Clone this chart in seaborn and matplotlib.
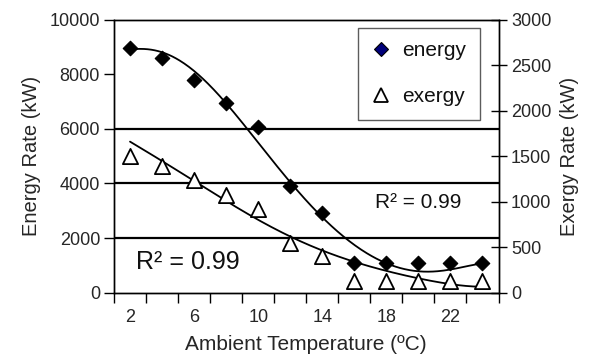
import numpy as np
import pandas as pd
import matplotlib
matplotlib.use("Agg")
import matplotlib.pyplot as plt
import seaborn as sns
from matplotlib.lines import Line2D

# ---- data ----
temps = [2, 4, 6, 8, 10, 12, 14, 16, 18, 20, 22, 24]
energy = [8950, 8600, 7800, 6950, 6050, 3900, 2900, 1075, 1075, 1075, 1075, 1075]
exergy = [1500, 1390, 1240, 1075, 915, 550, 400, 130, 130, 130, 130, 130]
energy_trend = [8900, 8830, 8030, 7050, 5450, 3950, 2900, 1700, 1040, 830, 830, 1075]
exergy_trend = [1660, 1440, 1237, 1000, 800, 615, 470, 340, 231, 165, 92, 66]
x_labels = [2, 6, 10, 14, 18, 22]
left_ticks = [0, 2000, 4000, 6000, 8000, 10000]
right_ticks = [0, 500, 1000, 1500, 2000, 2500, 3000]
grid_levels = [2000, 4000, 6000]
r2_energy = "R\u00b2 = 0.99"
r2_exergy = "R\u00b2 = 0.99"

sns.set_theme(style="white")
plt.rcParams['font.family'] = ['Liberation Sans', 'DejaVu Sans']
plt.rcParams['text.color'] = '#111111'

fig = plt.figure(figsize=(6, 3.54), dpi=100)
ax = fig.add_axes([114 / 600, 1 - 292.7 / 354, (498.5 - 114) / 600, (292.7 - 19.5) / 354])
ax2 = ax.twinx()

# smooth trend curves (rendering of the read trend values)
xs = np.linspace(temps[0], temps[-1], 300)
def smooth(vals, deg):
    t = np.asarray(temps, float)
    c = np.polyfit((t - 13) / 11, np.asarray(vals, float), deg)
    return np.polyval(c, (xs - 13) / 11)

df_e = pd.DataFrame({"t": temps, "v": energy})
df_x = pd.DataFrame({"t": temps, "v": exergy})
df_et = pd.DataFrame({"t": xs, "v": smooth(energy_trend, 7)})
df_xt = pd.DataFrame({"t": xs, "v": smooth(exergy_trend, 6)})

for g in grid_levels:
    ax.axhline(g, color='black', lw=1.6, zorder=1)

sns.lineplot(data=df_et, x="t", y="v", ax=ax, color='black', lw=1.3, estimator=None, zorder=3)
sns.scatterplot(data=df_e, x="t", y="v", ax=ax, marker='D', s=55, color='black',
                edgecolor='black', linewidth=0.8, zorder=4)
sns.lineplot(data=df_xt, x="t", y="v", ax=ax2, color='black', lw=1.3, estimator=None, zorder=3)
sns.scatterplot(data=df_x, x="t", y="v", ax=ax2, marker='^', s=120, facecolor='white',
                edgecolor='black', linewidth=1.3, zorder=4)

ax.set_xlim(1, 25)
ax.set_ylim(0, 10000)
ax2.set_ylim(0, 3000)

ax.set_xticks(x_labels)
ax.set_xticklabels([str(v) for v in x_labels], fontsize=13)
ax.set_xticks(np.arange(1, 26, 2), minor=True)
ax.tick_params(axis='x', which='major', length=0, pad=12)
ax.tick_params(axis='x', which='minor', direction='out', length=7, width=1, color='black', bottom=True)
ax.set_yticks(left_ticks)
ax.set_yticklabels([str(v) for v in left_ticks], fontsize=13)
ax.tick_params(axis='y', direction='out', length=7, width=1, color='black', left=True, pad=3)
ax2.set_yticks(right_ticks)
ax2.set_yticklabels([str(v) for v in right_ticks], fontsize=13)
ax2.tick_params(axis='y', direction='inout', length=12, width=1, color='black', right=True, pad=3)

ax.set_xlabel("Ambient Temperature (\u00baC)", fontsize=15, labelpad=6)
ax.set_ylabel("Energy Rate (kW)", fontsize=14.5, labelpad=6)
ax2.set_ylabel("Exergy Rate (kW)", fontsize=14.5, labelpad=6)

for a in (ax, ax2):
    for s in a.spines.values():
        s.set_color('black')
        s.set_linewidth(1.0)
    a.grid(False)

fig.text(136 / 600, 1 - 262 / 354, r2_energy, fontsize=18, va='center', ha='left')
fig.text(375 / 600, 1 - 203 / 354, r2_exergy, fontsize=15, va='center', ha='left')

handles = [Line2D([], [], marker='D', ls='', mfc='#00007a', mec='black', ms=7.5, mew=0.8),
           Line2D([], [], marker='^', ls='', mfc='white', mec='black', ms=10, mew=1.3)]
leg = ax2.legend(handles, ["energy", "exergy"], loc='upper left',
                 bbox_to_anchor=(357.7 / 600, 1 - 27.7 / 354), bbox_transform=fig.transFigure,
                 fontsize=15, frameon=True, fancybox=False, edgecolor='#333333',
                 borderpad=0.65, labelspacing=1.3, handlelength=0.9, handletextpad=0.6,
                 borderaxespad=0)
leg.get_frame().set_linewidth(1.0)

fig.savefig("out.png", dpi=100)
